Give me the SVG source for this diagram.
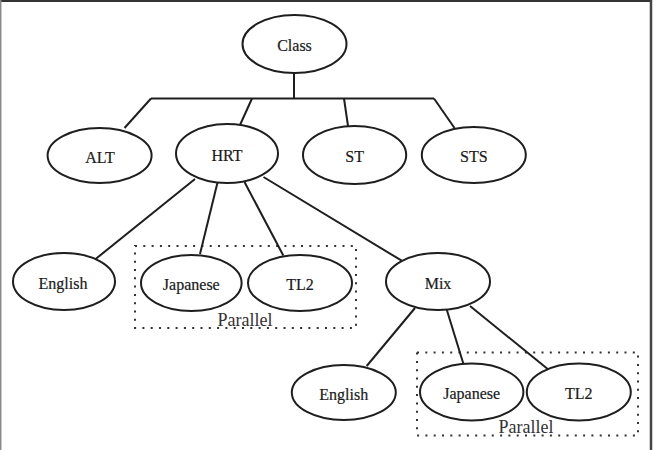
<svg xmlns="http://www.w3.org/2000/svg" width="656" height="450" viewBox="0 0 656 450">
<style>
.n ellipse{fill:#fff;stroke:#1e1e1e;stroke-width:2}
.n text{font-family:"Liberation Serif","Times New Roman",serif;font-size:16px;fill:#1a1a1a;stroke:#1a1a1a;stroke-width:0.2;text-anchor:middle}
.c line{stroke:#1e1e1e;stroke-width:2;fill:none}
.grp rect{fill:none;stroke:#333;stroke-width:2;stroke-dasharray:2 6.3}
.grp text{font-family:"Liberation Serif","Times New Roman",serif;font-size:18px;fill:#333;text-anchor:middle}
</style>
<rect x="0" y="0" width="656" height="450" fill="#fff"/>
<g id="frame">
<line x1="0" y1="1" x2="652" y2="1" stroke="#333" stroke-width="2"/>
<line x1="651" y1="0" x2="651" y2="450" stroke="#444" stroke-width="2.5"/>
<line x1="0.7" y1="0" x2="0.7" y2="450" stroke="#888" stroke-width="1.5"/>
</g>
<g id="group-parallel-1" class="grp">
<rect x="135" y="246" width="221" height="82"/>
<text x="245" y="325.5">Parallel</text>
</g>
<g id="group-parallel-2" class="grp">
<rect x="417" y="352.5" width="221" height="83"/>
<text x="526" y="433">Parallel</text>
</g>
<g id="connectors" class="c">
<line x1="294" y1="72" x2="294" y2="98.5"/>
<line x1="151" y1="98.5" x2="434" y2="98.5"/>
<line x1="151" y1="98.5" x2="124.5" y2="128"/>
<line x1="252" y1="98.5" x2="240" y2="125"/>
<line x1="344" y1="98.5" x2="348" y2="126"/>
<line x1="434" y1="98.5" x2="454.5" y2="128"/>
<line x1="195" y1="179" x2="95" y2="259.5"/>
<line x1="217.5" y1="182.5" x2="200" y2="254"/>
<line x1="244.5" y1="182" x2="283.3" y2="255.5"/>
<line x1="263.5" y1="177" x2="401.7" y2="260.7"/>
<line x1="415" y1="308" x2="366.7" y2="366"/>
<line x1="446.7" y1="309.5" x2="463.3" y2="363.5"/>
<line x1="470" y1="306" x2="548.3" y2="369.5"/>
</g>
<g id="node-class" class="n"><ellipse cx="294.5" cy="44" rx="52" ry="29"/><text x="294.5" y="51">Class</text></g>
<g id="node-alt" class="n"><ellipse cx="99.6" cy="155.5" rx="52" ry="27.5"/><text x="100" y="162.5">ALT</text></g>
<g id="node-hrt" class="n"><ellipse cx="227" cy="153.5" rx="51" ry="29.5"/><text x="227" y="160.5">HRT</text></g>
<g id="node-st" class="n"><ellipse cx="354.6" cy="155" rx="51.6" ry="29"/><text x="354.6" y="162">ST</text></g>
<g id="node-sts" class="n"><ellipse cx="473.8" cy="155" rx="52" ry="28"/><text x="473.8" y="162">STS</text></g>
<g id="node-english-1" class="n"><ellipse cx="64" cy="281.5" rx="51" ry="28.5"/><text x="63" y="288.5">English</text></g>
<g id="node-japanese-1" class="n"><ellipse cx="191.3" cy="283" rx="50.3" ry="28"/><text x="191.3" y="290">Japanese</text></g>
<g id="node-tl2-1" class="n"><ellipse cx="300" cy="283" rx="52" ry="28"/><text x="300" y="290">TL2</text></g>
<g id="node-mix" class="n"><ellipse cx="438" cy="281.5" rx="52" ry="28.5"/><text x="438" y="288.5">Mix</text></g>
<g id="node-english-2" class="n"><ellipse cx="343.8" cy="392.5" rx="52" ry="27.5"/><text x="343.8" y="399.5">English</text></g>
<g id="node-japanese-2" class="n"><ellipse cx="471.7" cy="392" rx="51.7" ry="28.5"/><text x="471.7" y="399">Japanese</text></g>
<g id="node-tl2-2" class="n"><ellipse cx="578.8" cy="392" rx="52" ry="28.5"/><text x="578.8" y="399">TL2</text></g>
</svg>
